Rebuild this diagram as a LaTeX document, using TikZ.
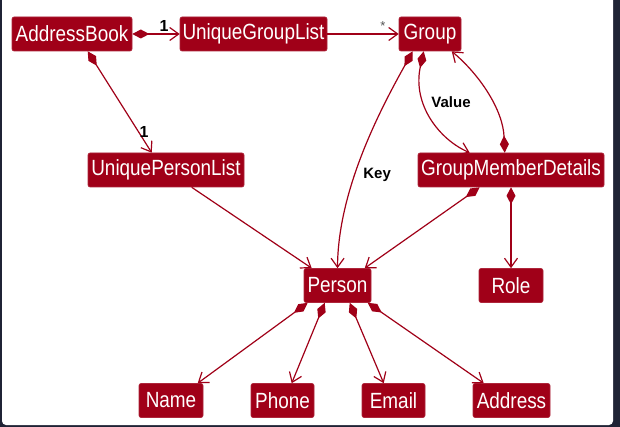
\documentclass[tikz,border=0pt]{standalone}
\usepackage{fontspec}
\setmainfont{Liberation Sans}
\newfontfamily\boxfont[FakeStretch=0.86]{Liberation Sans}
\usetikzlibrary{arrows.meta,calc}
\definecolor{umlred}{HTML}{A00018}
\definecolor{frame}{HTML}{1F2335}
\definecolor{stargrey}{HTML}{555555}
\begin{document}
\begin{tikzpicture}[x=1pt,y=-1pt,
  cls/.style={draw=umlred!85!white, line width=0.6pt, fill=umlred, text=white, rounded corners=2pt,
    inner sep=0pt, minimum height=34pt, font=\boxfont\fontsize{22}{24}\selectfont},
  conn/.style={draw=umlred, line width=1.2pt, -{Straight Barb[length=9pt,width=13pt,line width=1.2pt]}},
  comp/.style={conn, {Diamond[length=17pt,width=9pt,fill=umlred]}-{Straight Barb[length=9pt,width=13pt,line width=1.2pt]}},
  rolelbl/.style={font=\bfseries\fontsize{15}{17}\selectfont, text=black, inner sep=1pt},
  mult/.style={font=\bfseries\fontsize{16}{18}\selectfont, text=black, inner sep=1pt}]
\useasboundingbox (0,0) rectangle (620,427);
\fill[frame] (0,0) rectangle (620,427);
\fill[white, rounded corners=4pt] (2,-6) rectangle (613,425);

\node[cls, minimum width=120pt] (AB) at (72,34) {AddressBook};
\node[cls, minimum width=147pt] (UGL) at (253.5,34) {UniqueGroupList};
\node[cls, minimum width=62pt] (G) at (430,34) {Group};
\node[cls, minimum width=156pt] (UPL) at (166,170) {UniquePersonList};
\node[cls, minimum width=186pt] (GMD) at (511,170) {GroupMemberDetails};
\node[cls, minimum width=67pt] (P) at (337.5,285.5) {Person};
\node[cls, minimum width=64pt] (R) at (511,285.5) {Role};
\node[cls, minimum width=64pt] (N) at (171,400.5) {Name};
\node[cls, minimum width=63pt] (Ph) at (282.5,400.5) {Phone};
\node[cls, minimum width=63pt] (E) at (393.5,400.5) {Email};
\node[cls, minimum width=77pt] (Ad) at (511.5,400.5) {Address};

% AddressBook -> UniqueGroupList
\draw[comp] (AB.east) -- node[mult, pos=0.67, above=1pt] {1} (UGL.west);
% UniqueGroupList -> Group
\draw[conn] (UGL.east) -- node[pos=0.78, above=2pt, font=\fontsize{13}{14}\selectfont, text=stargrey, inner sep=1pt] {*} (G.west);
% AddressBook -> UniquePersonList
\draw[comp] ($(AB.south west)+(76,0)$) -- node[mult, pos=0.8, right=-1pt] {1} ($(UPL.north west)+(64,0)$);
% Group -> Person (Key)
\draw[comp] ($(G.south west)+(14,0)$) .. controls (380,110) and (338,190) .. node[rolelbl, pos=0.6, right=7pt] {Key} (P.north);
% Group -> GroupMemberDetails (Value)
\draw[comp] ($(G.south west)+(25,0)$) .. controls (412,105) and (440,140) .. ($(GMD.north west)+(52,0)$);
\node[rolelbl] (val) at (451,102) {Value};
% GroupMemberDetails -> Group
\draw[comp] ($(GMD.north west)+(87,0)$) .. controls (503,110) and (480,75) .. ($(G.south west)+(53,0)$);
% UniquePersonList -> Person
\draw[conn] ($(UPL.south west)+(104,0)$) -- ($(P.north west)+(8,0)$);
% GroupMemberDetails -> Person
\draw[comp] ($(GMD.south west)+(62,0)$) -- ($(P.north west)+(61,0)$);
% GroupMemberDetails -> Role
\draw[comp] (GMD.south) -- (R.north);
% Person -> attributes
\draw[comp] ($(P.south west)+(4,0)$) -- ($(N.north west)+(59,0)$);
\draw[comp] ($(P.south west)+(21,0)$) -- ($(Ph.north west)+(41,0)$);
\draw[comp] ($(P.south west)+(46,0)$) -- ($(E.north west)+(22,0)$);
\draw[comp] ($(P.south west)+(64,0)$) -- ($(Ad.north west)+(11,0)$);
\end{tikzpicture}
\end{document}
